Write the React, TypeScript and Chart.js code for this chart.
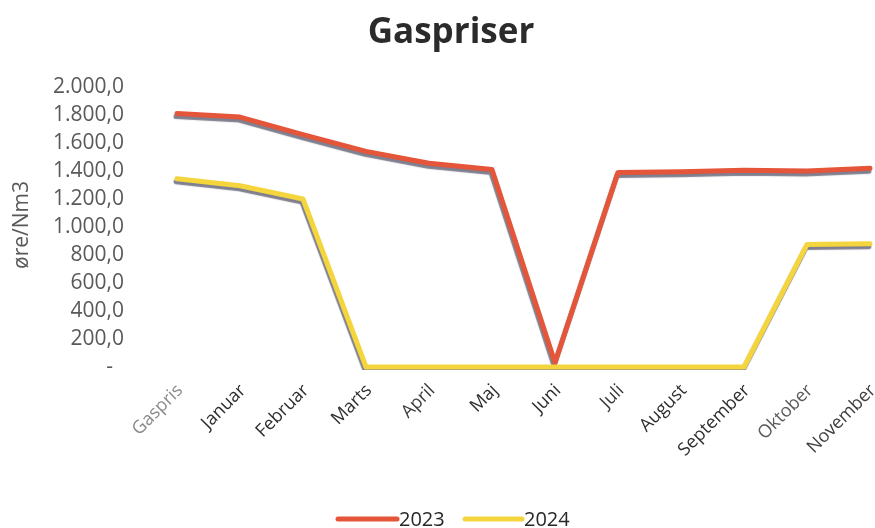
import React, { useEffect, useRef } from "react";
import { Chart, registerables } from "chart.js";

Chart.register(...registerables);

const categories = [
  "Gaspris", "Januar", "Februar", "Marts", "April", "Maj",
  "Juni", "Juli", "August", "September", "Oktober", "November",
];
const series2023 = [1810, 1785, 1660, 1540, 1455, 1410, 30, 1390, 1395, 1405, 1400, 1420];
const series2024 = [1345, 1295, 1200, 0, 0, 0, 0, 0, 0, 0, 875, 880];
const yTickValues = [0, 200, 400, 600, 800, 1000, 1200, 1400, 1600, 1800, 2000];
const seriesNames = ["2023", "2024"];
const titleText = "Gaspriser";
const yAxisTitle = "øre/Nm3";

const RED = "#E4553A";
const YELLOW = "#F4D53E";
const FONT = "'Open Sans', sans-serif";
const labelColors = ["#8a8a8a", "#2e2e2e", "#2e2e2e", "#2e2e2e", "#3a3a3a", "#2e2e2e",
  "#2e2e2e", "#3a3a3a", "#2e2e2e", "#2e2e2e", "#5a5a5a", "#404040"];

function fmt(v: number): string {
  if (v === 0) return "-  ";
  const s = Math.round(v).toString();
  const withDots = s.replace(/\B(?=(\d{3})+(?!\d))/g, ".");
  return withDots + ",0";
}

const shadowPlugin = {
  id: "lineShadow",
  beforeDatasetDraw(chart: any) {
    const ctx = chart.ctx;
    ctx.save();
    ctx.shadowColor = "rgba(95,95,115,0.8)";
    ctx.shadowOffsetX = -1;
    ctx.shadowOffsetY = 3;
    ctx.shadowBlur = 1;
  },
  afterDatasetDraw(chart: any) {
    chart.ctx.restore();
  },
};

const decorPlugin = {
  id: "decor",
  afterDraw(chart: any) {
    const ctx = chart.ctx;
    ctx.save();
    // title
    ctx.fillStyle = "#2b2b2b";
    ctx.font = `bold 35px ${FONT}`;
    ctx.textAlign = "center";
    ctx.textBaseline = "alphabetic";
    ctx.fillText(titleText, 451, 43);
    // y axis title
    ctx.save();
    ctx.translate(22, 225);
    ctx.rotate(-Math.PI / 2);
    ctx.fillStyle = "#595959";
    ctx.font = `21px ${FONT}`;
    ctx.textAlign = "center";
    ctx.textBaseline = "middle";
    ctx.fillText(yAxisTitle, 0, 0);
    ctx.restore();
    // legend
    const items = [
      { x1: 338, x2: 397, color: RED, label: seriesNames[0] },
      { x1: 465, x2: 522, color: YELLOW, label: seriesNames[1] },
    ];
    ctx.font = `20px ${FONT}`;
    ctx.textAlign = "left";
    ctx.textBaseline = "alphabetic";
    for (const it of items) {
      ctx.strokeStyle = it.color;
      ctx.lineWidth = 5;
      ctx.lineCap = "round";
      ctx.beginPath();
      ctx.moveTo(it.x1, 519);
      ctx.lineTo(it.x2, 519);
      ctx.stroke();
      ctx.fillStyle = "#262626";
      ctx.fillText(it.label, it.x2 + 2, 526);
    }
    ctx.restore();
  },
};

export default function App() {
  const ref = useRef<HTMLCanvasElement | null>(null);
  useEffect(() => {
    document.body.style.margin = "0";
    const canvas = ref.current;
    if (!canvas) return;
    const chart = new Chart(canvas, {
      type: "line",
      data: {
        labels: categories,
        datasets: [
          {
            label: seriesNames[0],
            data: series2023,
            borderColor: RED,
            backgroundColor: RED,
            borderWidth: 5,
            pointRadius: 0,
            tension: 0,
            borderJoinStyle: "round",
            borderCapStyle: "round",
            order: 1,
            clip: { left: 8, right: 8, top: 8, bottom: 3 },
          },
          {
            label: seriesNames[1],
            data: series2024,
            borderColor: YELLOW,
            backgroundColor: YELLOW,
            borderWidth: 5,
            pointRadius: 0,
            tension: 0,
            borderJoinStyle: "round",
            borderCapStyle: "round",
            order: 0,
            clip: { left: 8, right: 8, top: 8, bottom: 3 },
          },
        ],
      },
      options: {
        responsive: false,
        animation: false,
        layout: { padding: { left: 0, right: 5, top: 87, bottom: 0 } },
        plugins: {
          legend: { display: false },
          title: { display: false },
          tooltip: { enabled: false },
        },
        scales: {
          x: {
            type: "category",
            offset: false,
            grid: { display: false },
            border: { display: false },
            ticks: {
              autoSkip: false,
              minRotation: 45,
              maxRotation: 45,
              padding: 5,
              labelOffset: 3,
              font: { family: FONT, size: 18 },
              color: (c: any) => labelColors[c.index] || "#2e2e2e",
            },
            afterFit(scale: any) {
              scale.height = 161;
              scale.paddingRight = 0;
              scale.paddingLeft = 0;
            },
          },
          y: {
            min: 0,
            max: 2000,
            grid: { display: false },
            border: { display: false },
            afterBuildTicks(scale: any) {
              scale.ticks = yTickValues.map((v) => ({ value: v }));
            },
            ticks: {
              autoSkip: false,
              padding: 45,
              font: { family: FONT, size: 21 },
              color: "#595959",
              callback: (v: any) => fmt(Number(v)),
            },
            afterFit(scale: any) {
              scale.width = 177;
            },
          },
        },
      },
      plugins: [shadowPlugin, decorPlugin],
    });
    return () => chart.destroy();
  }, []);
  return (
    <div style={{ position: "absolute", left: 0, top: 0, width: 875, height: 528, background: "#fff" }}>
      <canvas ref={ref} width={875} height={528} style={{ display: "block" }} />
    </div>
  );
}
